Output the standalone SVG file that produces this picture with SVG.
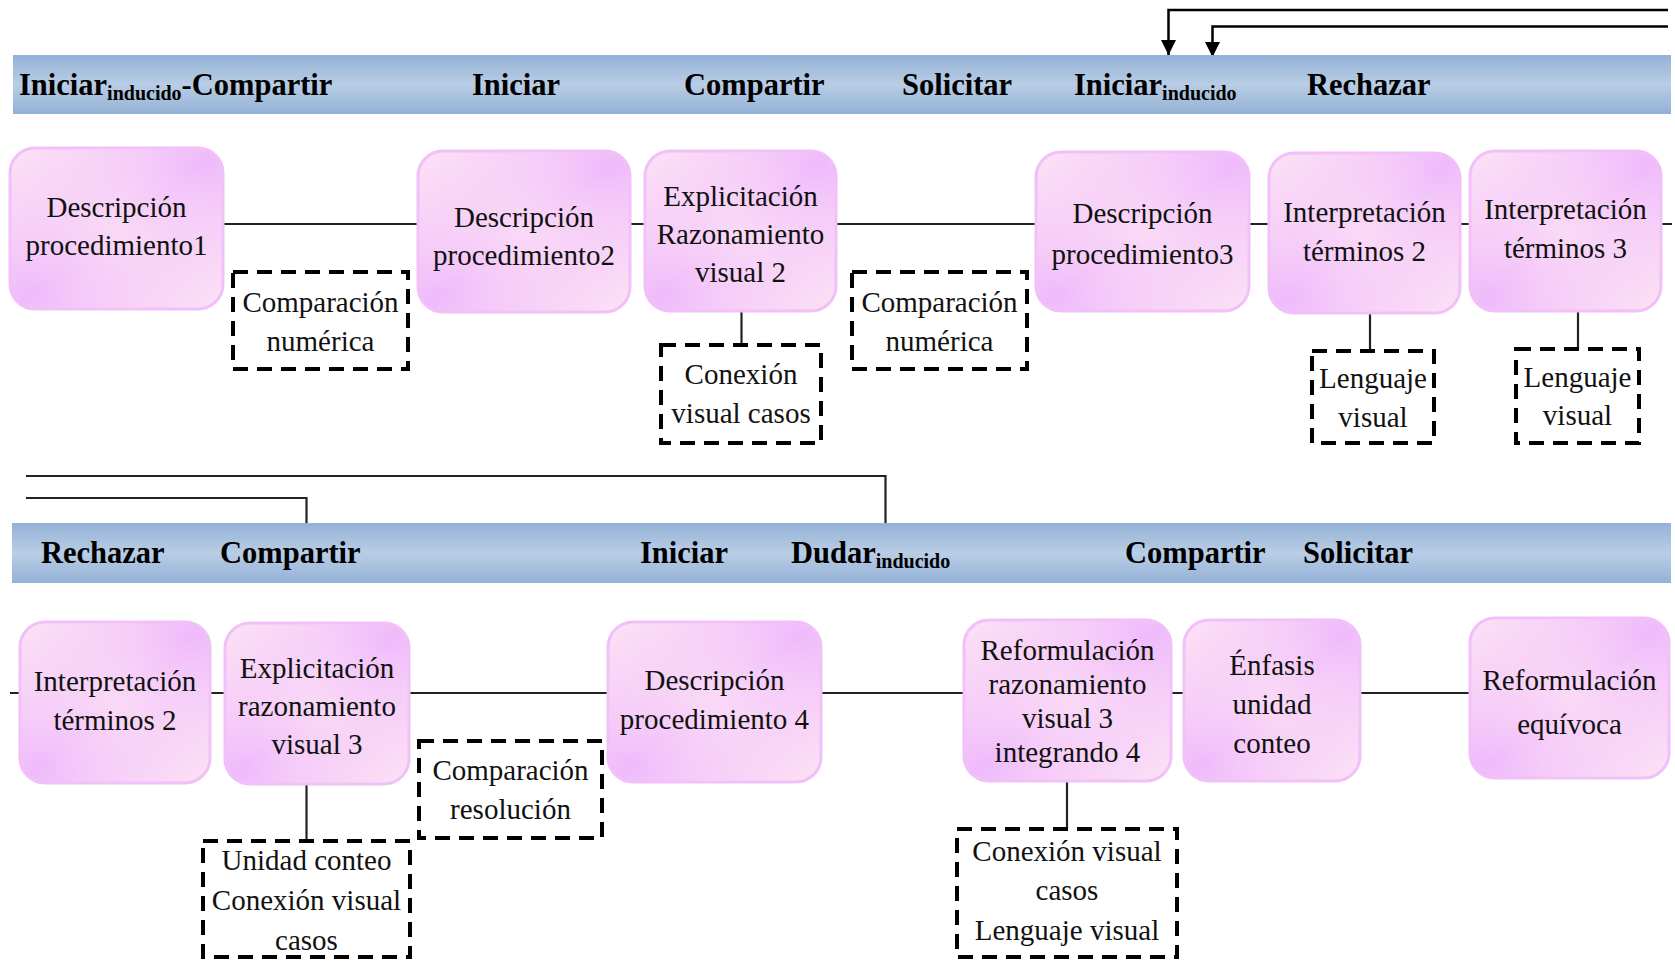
<svg xmlns="http://www.w3.org/2000/svg" width="1675" height="961" viewBox="0 0 1675 961">
  <defs>
    <linearGradient id="bandFill" x1="0" y1="0" x2="0" y2="1">
      <stop offset="0" stop-color="#93b1d6"/>
      <stop offset="0.5" stop-color="#b9cde5"/>
      <stop offset="1" stop-color="#93b1d6"/>
    </linearGradient>
    <linearGradient id="nodeFill" x1="0" y1="0" x2="1" y2="1">
      <stop offset="0" stop-color="#fde3f5"/>
      <stop offset="0.5" stop-color="#efbbfb"/>
      <stop offset="1" stop-color="#fde3f5"/>
    </linearGradient>
    <radialGradient id="nodeGlow" cx="0.5" cy="0.5" r="0.55">
      <stop offset="0" stop-color="#fcdff6" stop-opacity="0.85"/>
      <stop offset="1" stop-color="#fcdff6" stop-opacity="0"/>
    </radialGradient>
    <marker id="arrowHead" viewBox="0 0 10 10" refX="10" refY="5" markerWidth="15" markerHeight="15" markerUnits="userSpaceOnUse" orient="auto">
      <path d="M0,0 L10,5 L0,10 Z" fill="#000"/>
    </marker>
  </defs>
  <style>
    .band { fill: url(#bandFill); }
    .act { font-family: "Liberation Serif", "Times New Roman", serif; font-weight: bold; font-size: 30.5px; fill: #000; }
    .sub { font-size: 20px; }
    .node rect.bg { fill: url(#nodeFill); stroke: #f2c0f8; stroke-width: 3; }
    .node rect.glow { fill: url(#nodeGlow); stroke: none; }
    .lbl { font-family: "Liberation Serif", "Times New Roman", serif; font-size: 29px; fill: #111; text-anchor: middle; }
    .note rect { fill: none; stroke: #000; stroke-width: 4; stroke-dasharray: 15 9; }
    .wire { fill: none; stroke: #222; stroke-width: 2.2; }
    .feedback { fill: none; stroke: #000; stroke-width: 2.5; }
  </style>

  <rect width="1675" height="961" fill="#fff"/>

  <!-- connectors -->
  <g id="connectors">
    <line class="wire" x1="223" y1="224" x2="1672" y2="224"/>
    <line class="wire" x1="741.5" y1="311" x2="741.5" y2="345"/>
    <line class="wire" x1="1370" y1="313" x2="1370" y2="351"/>
    <line class="wire" x1="1578" y1="311" x2="1578" y2="349"/>
    <line class="wire" x1="10" y1="693" x2="1470" y2="693"/>
    <line class="wire" x1="306.5" y1="784" x2="306.5" y2="841"/>
    <line class="wire" x1="1067" y1="781" x2="1067" y2="829"/>
    <path class="feedback" d="M1668 10 H1168.5 V55" marker-end="url(#arrowHead)"/>
    <path class="feedback" d="M1668 26.5 H1212.5 V57" marker-end="url(#arrowHead)"/>
    <path class="wire" d="M26 476 H885.5 V523"/>
    <path class="wire" d="M26 498 H306.5 V523"/>
  </g>

  <!-- speech-act bands -->
  <g id="band-top">
    <rect class="band" x="13" y="55" width="1658" height="59"/>
    <text class="act" x="19" y="95">Iniciar<tspan class="sub" dy="5">inducido</tspan><tspan dy="-5">-Compartir</tspan></text>
    <text class="act" x="472" y="95">Iniciar</text>
    <text class="act" x="684" y="95">Compartir</text>
    <text class="act" x="902" y="95">Solicitar</text>
    <text class="act" x="1074" y="95">Iniciar<tspan class="sub" dy="5">inducido</tspan></text>
    <text class="act" x="1307" y="95">Rechazar</text>
  </g>
  <g id="band-bottom">
    <rect class="band" x="12" y="523" width="1659" height="60"/>
    <text class="act" x="41" y="563">Rechazar</text>
    <text class="act" x="220" y="563">Compartir</text>
    <text class="act" x="640" y="563">Iniciar</text>
    <text class="act" x="791" y="563">Dudar<tspan class="sub" dy="5">inducido</tspan></text>
    <text class="act" x="1125" y="563">Compartir</text>
    <text class="act" x="1303" y="563">Solicitar</text>
  </g>

  <!-- top row nodes -->
  <g id="n-desc1" class="node">
    <rect class="bg" x="10" y="148" width="213" height="161" rx="25"/>
    <rect class="glow" x="10" y="148" width="213" height="161" rx="25"/>
    <text class="lbl" x="116.5" y="217">Descripción</text>
    <text class="lbl" x="116.5" y="255">procedimiento1</text>
  </g>
  <g id="n-desc2" class="node">
    <rect class="bg" x="418" y="151" width="212" height="161" rx="25"/>
    <rect class="glow" x="418" y="151" width="212" height="161" rx="25"/>
    <text class="lbl" x="524" y="227">Descripción</text>
    <text class="lbl" x="524" y="265">procedimiento2</text>
  </g>
  <g id="n-expl2" class="node">
    <rect class="bg" x="645" y="151" width="191" height="160" rx="25"/>
    <rect class="glow" x="645" y="151" width="191" height="160" rx="25"/>
    <text class="lbl" x="740.5" y="206">Explicitación</text>
    <text class="lbl" x="740.5" y="244">Razonamiento</text>
    <text class="lbl" x="740.5" y="282">visual 2</text>
  </g>
  <g id="n-desc3" class="node">
    <rect class="bg" x="1036" y="152" width="213" height="159" rx="25"/>
    <rect class="glow" x="1036" y="152" width="213" height="159" rx="25"/>
    <text class="lbl" x="1142.5" y="223">Descripción</text>
    <text class="lbl" x="1142.5" y="264">procedimiento3</text>
  </g>
  <g id="n-interp2" class="node">
    <rect class="bg" x="1269" y="153" width="191" height="160" rx="25"/>
    <rect class="glow" x="1269" y="153" width="191" height="160" rx="25"/>
    <text class="lbl" x="1364.5" y="222">Interpretación</text>
    <text class="lbl" x="1364.5" y="261">términos 2</text>
  </g>
  <g id="n-interp3" class="node">
    <rect class="bg" x="1470" y="151" width="191" height="160" rx="25"/>
    <rect class="glow" x="1470" y="151" width="191" height="160" rx="25"/>
    <text class="lbl" x="1565.5" y="219">Interpretación</text>
    <text class="lbl" x="1565.5" y="258">términos 3</text>
  </g>

  <!-- top row notes -->
  <g id="t-comp1" class="note">
    <rect x="233" y="272" width="175" height="97"/>
    <text class="lbl" x="320.5" y="312">Comparación</text>
    <text class="lbl" x="320.5" y="351">numérica</text>
  </g>
  <g id="t-conex1" class="note">
    <rect x="661" y="345" width="160" height="98"/>
    <text class="lbl" x="741" y="384">Conexión</text>
    <text class="lbl" x="741" y="423">visual casos</text>
  </g>
  <g id="t-comp2" class="note">
    <rect x="852" y="272" width="175" height="97"/>
    <text class="lbl" x="939.5" y="312">Comparación</text>
    <text class="lbl" x="939.5" y="351">numérica</text>
  </g>
  <g id="t-leng1" class="note">
    <rect x="1312" y="351" width="122" height="92"/>
    <text class="lbl" x="1373" y="388">Lenguaje</text>
    <text class="lbl" x="1373" y="427">visual</text>
  </g>
  <g id="t-leng2" class="note">
    <rect x="1516" y="349" width="123" height="94"/>
    <text class="lbl" x="1577.5" y="387">Lenguaje</text>
    <text class="lbl" x="1577.5" y="425">visual</text>
  </g>

  <!-- bottom row nodes -->
  <g id="n-interp2b" class="node">
    <rect class="bg" x="20" y="622" width="190" height="161" rx="25"/>
    <rect class="glow" x="20" y="622" width="190" height="161" rx="25"/>
    <text class="lbl" x="115" y="691">Interpretación</text>
    <text class="lbl" x="115" y="730">términos 2</text>
  </g>
  <g id="n-expl3" class="node">
    <rect class="bg" x="225" y="623" width="184" height="161" rx="25"/>
    <rect class="glow" x="225" y="623" width="184" height="161" rx="25"/>
    <text class="lbl" x="317" y="678">Explicitación</text>
    <text class="lbl" x="317" y="716">razonamiento</text>
    <text class="lbl" x="317" y="754">visual 3</text>
  </g>
  <g id="n-desc4" class="node">
    <rect class="bg" x="608" y="622" width="213" height="160" rx="25"/>
    <rect class="glow" x="608" y="622" width="213" height="160" rx="25"/>
    <text class="lbl" x="714.5" y="690">Descripción</text>
    <text class="lbl" x="714.5" y="729">procedimiento 4</text>
  </g>
  <g id="n-reform3" class="node">
    <rect class="bg" x="964" y="620" width="207" height="161" rx="25"/>
    <rect class="glow" x="964" y="620" width="207" height="161" rx="25"/>
    <text class="lbl" x="1067.5" y="660">Reformulación</text>
    <text class="lbl" x="1067.5" y="694">razonamiento</text>
    <text class="lbl" x="1067.5" y="728">visual 3</text>
    <text class="lbl" x="1067.5" y="762">integrando 4</text>
  </g>
  <g id="n-enfasis" class="node">
    <rect class="bg" x="1184" y="620" width="176" height="161" rx="25"/>
    <rect class="glow" x="1184" y="620" width="176" height="161" rx="25"/>
    <text class="lbl" x="1272" y="675">Énfasis</text>
    <text class="lbl" x="1272" y="714">unidad</text>
    <text class="lbl" x="1272" y="753">conteo</text>
  </g>
  <g id="n-reformeq" class="node">
    <rect class="bg" x="1470" y="618" width="199" height="160" rx="25"/>
    <rect class="glow" x="1470" y="618" width="199" height="160" rx="25"/>
    <text class="lbl" x="1569.5" y="690">Reformulación</text>
    <text class="lbl" x="1569.5" y="734">equívoca</text>
  </g>

  <!-- bottom row notes -->
  <g id="t-compres" class="note">
    <rect x="419" y="741" width="183" height="97"/>
    <text class="lbl" x="510.5" y="780">Comparación</text>
    <text class="lbl" x="510.5" y="819">resolución</text>
  </g>
  <g id="t-unidad" class="note">
    <rect x="203" y="841" width="207" height="116"/>
    <text class="lbl" x="306.5" y="870">Unidad conteo</text>
    <text class="lbl" x="306.5" y="910">Conexión visual</text>
    <text class="lbl" x="306.5" y="950">casos</text>
  </g>
  <g id="t-conex2" class="note">
    <rect x="957" y="829" width="220" height="128"/>
    <text class="lbl" x="1067" y="861">Conexión visual</text>
    <text class="lbl" x="1067" y="900">casos</text>
    <text class="lbl" x="1067" y="940">Lenguaje visual</text>
  </g>
</svg>
